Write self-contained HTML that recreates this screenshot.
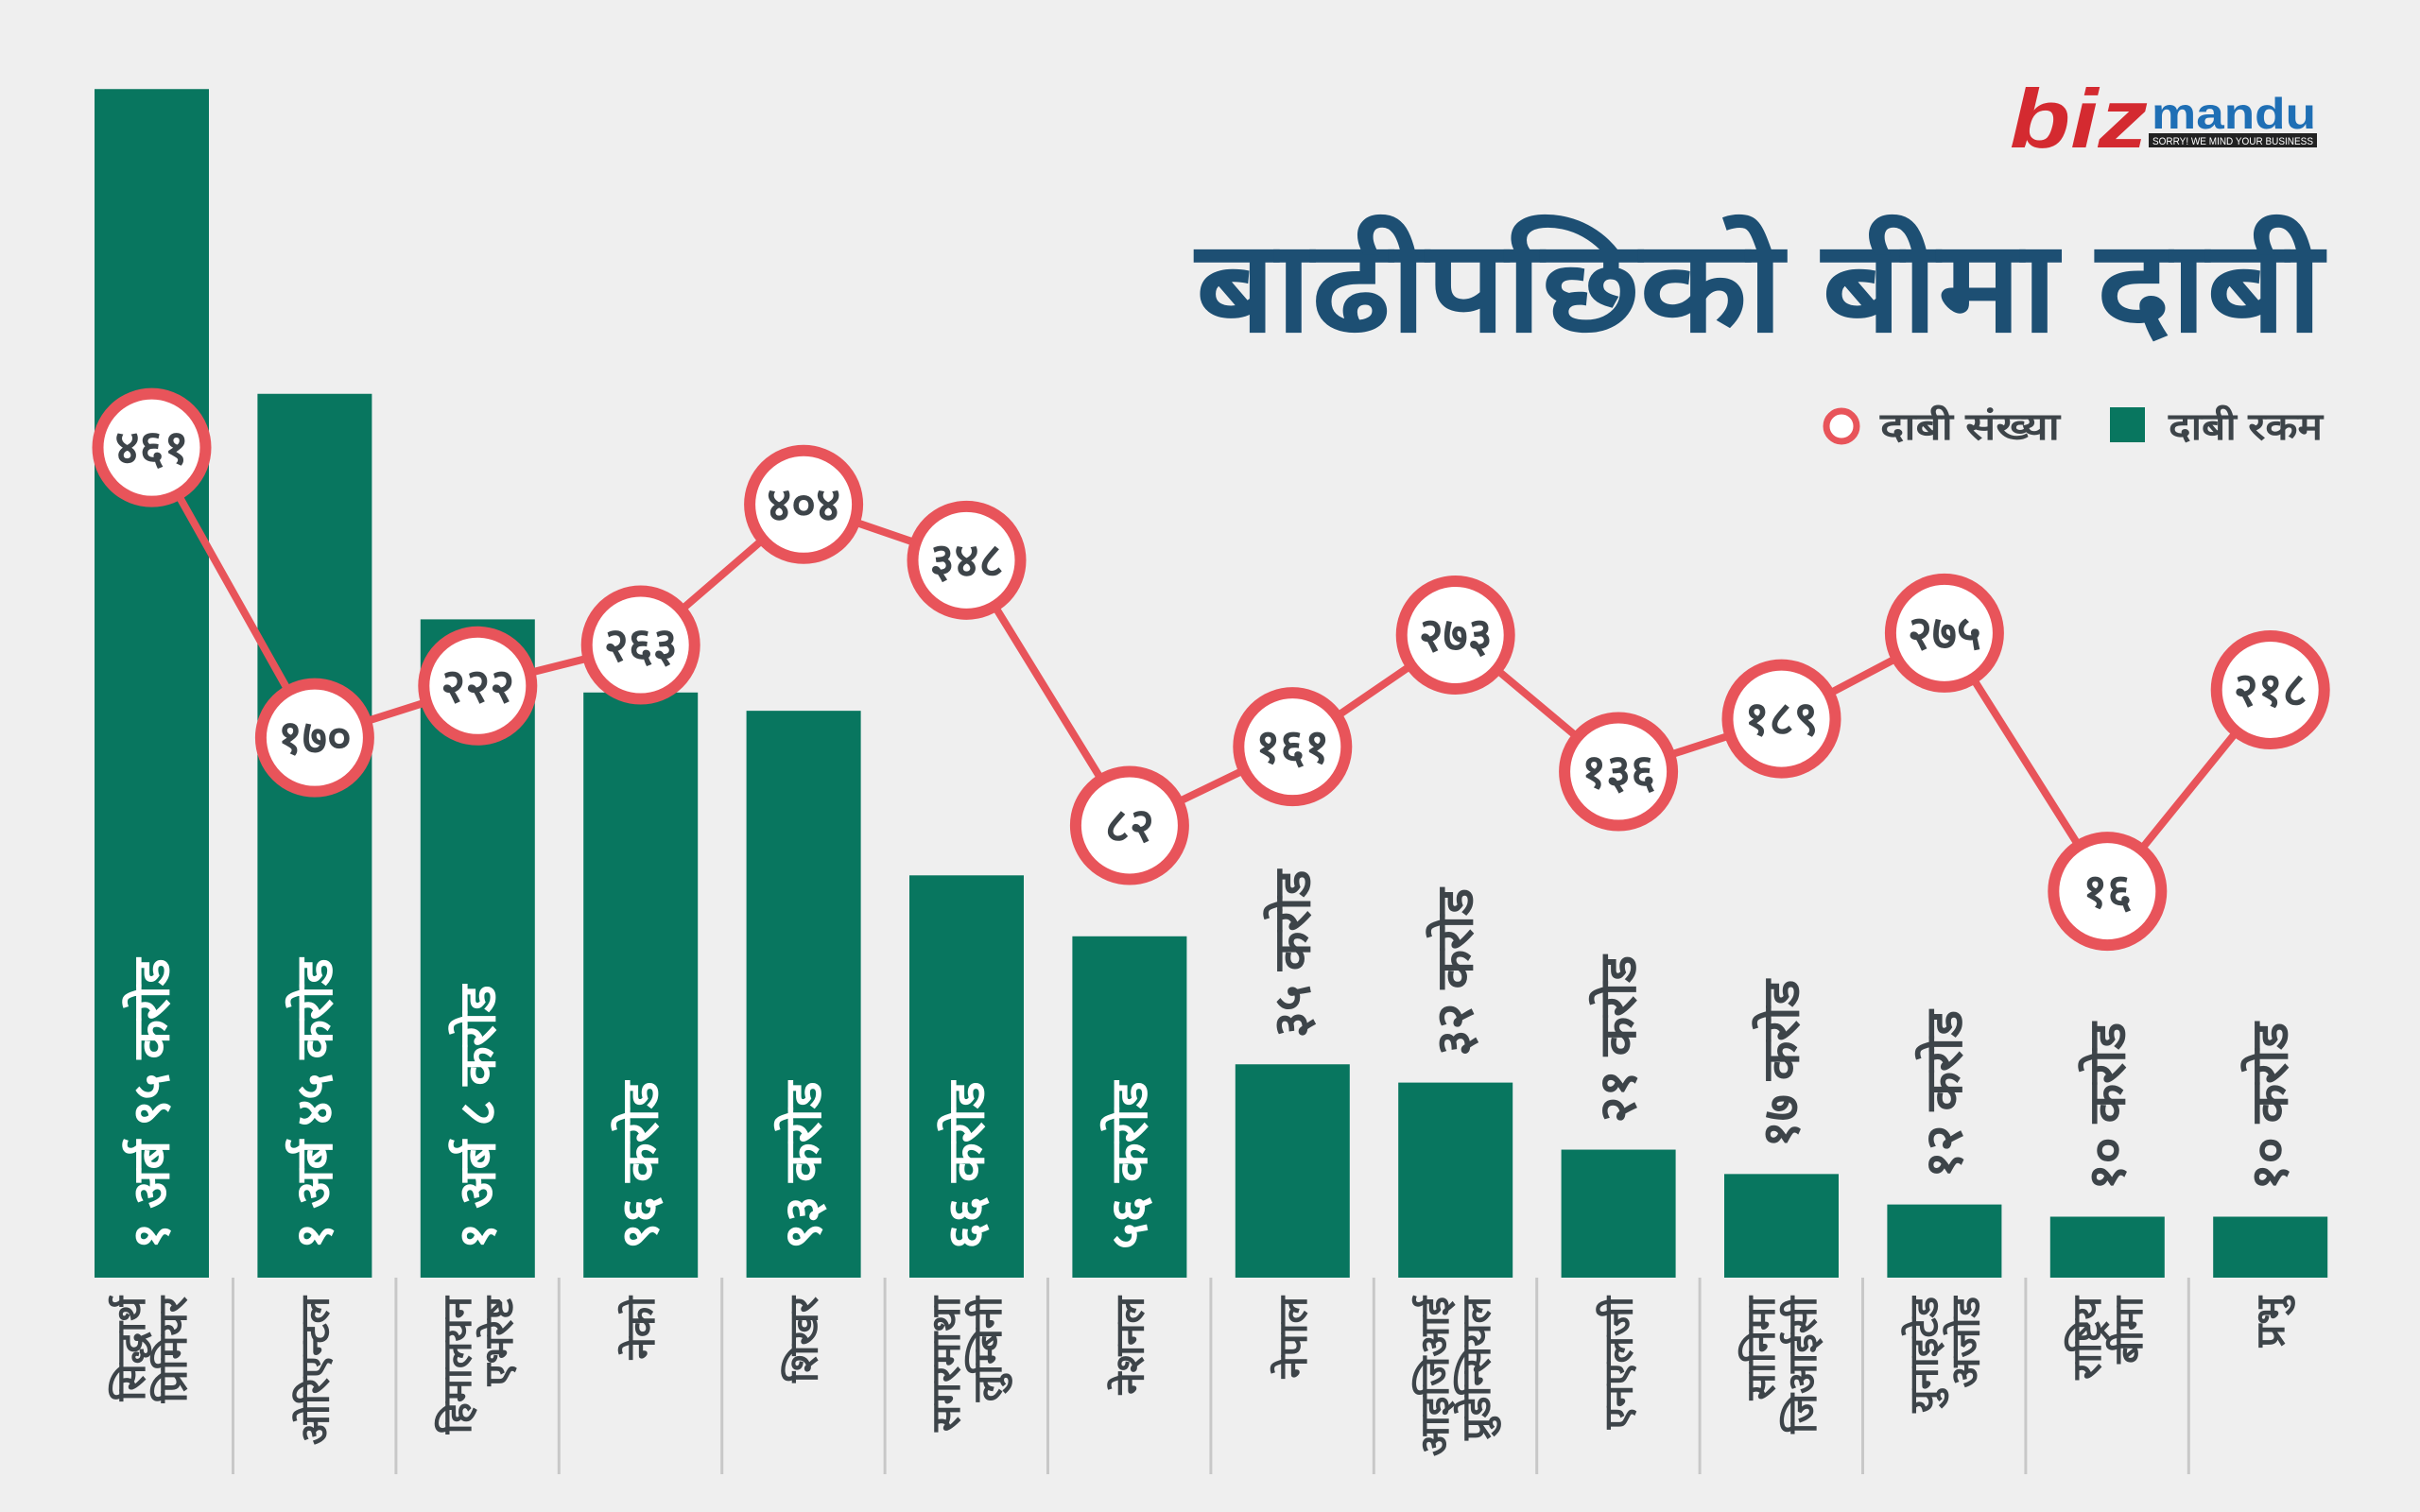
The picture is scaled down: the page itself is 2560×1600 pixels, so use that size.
<!DOCTYPE html>
<html><head><meta charset="utf-8"><style>
html,body{margin:0;padding:0;background:#efefef;}
svg{display:block;}
text{font-family:"Liberation Sans","DejaVu Sans",sans-serif;}
</style></head><body>
<svg id="chart" width="2560" height="1600" viewBox="0 0 2560 1600" xmlns="http://www.w3.org/2000/svg">
<rect x="0" y="0" width="2560" height="1600" fill="#efefef"/>
<g>
<text x="2126" y="156" font-size="88" font-weight="bold" font-style="italic" fill="#d42a30" textLength="146" lengthAdjust="spacingAndGlyphs">biz</text>
<text x="2276" y="136" font-size="46" font-weight="bold" fill="#1f6fb5" textLength="174" lengthAdjust="spacingAndGlyphs">mandu</text>
<rect x="2273" y="141" width="178" height="15" fill="#222"/>
<text x="2277" y="153" font-size="11" fill="#fff" textLength="170" lengthAdjust="spacingAndGlyphs">SORRY! WE MIND YOUR BUSINESS</text>
</g>
<text x="1265" y="350" font-size="135" font-weight="bold" fill="#1d4f73" textLength="1192" lengthAdjust="spacingAndGlyphs">बाढीपछिको बीमा दाबी</text>
<g>
<circle cx="1948" cy="451" r="16" fill="#fff" stroke="#e8545a" stroke-width="7"/>
<text x="1989" y="465" font-size="40" font-weight="bold" fill="#3d4449" textLength="190" lengthAdjust="spacingAndGlyphs">दाबी संख्या</text>
<rect x="2232" y="431" width="37" height="37" fill="#08765f"/>
<text x="2294" y="465" font-size="40" font-weight="bold" fill="#3d4449" textLength="163" lengthAdjust="spacingAndGlyphs">दाबी रकम</text>
</g>
<g id="bars"></g><g id="seps"></g><g id="cats"></g><g id="line"></g><g id="dots"></g>
</svg>
<script>
const categories=[["सिद्धार्थ","प्रिमियर"],["ओरिएन्टल"],["हिमालयन","एभरेष्ट"],["नेको"],["शिखर"],["सगरमाथा","लुम्बिनी"],["नेशनल"],["नेपाल"],["आइजिआई","प्रुडेन्सियल"],["एनएलजी"],["सानिमा","जिआईसी"],["युनाइटेड","अजोड"],["राष्ट्रिय","बीमा"],["प्रभु"]];
const amounts=[195,145,108,96,93,66,56,35,32,21,17,12,10,10];
const amountLabels=["१ अर्ब ९५ करोड","१ अर्ब ४५ करोड","१ अर्ब ८ करोड","९६ करोड","९३ करोड","६६ करोड","५६ करोड","३५ करोड","३२ करोड","२१ करोड","१७ करोड","१२ करोड","१० करोड","१० करोड"];
const counts=[461,170,222,263,404,348,82,161,273,136,189,275,16,218];
const countLabels=["४६१","१७०","२२२","२६३","४०४","३४८","८२","१६१","२७३","१३६","१८९","२७५","१६","२१८"];

const NS="http://www.w3.org/2000/svg";
const base=1352, pitch=172.4, x0=100, bw=121;
const xc=i=>x0+bw/2+i*pitch;
const yAmt=v=>base-v*6.45;
const yCnt=v=>960-v*1.055;
function mk(tag,attrs,parent){const e=document.createElementNS(NS,tag);for(const k in attrs)e.setAttribute(k,attrs[k]);parent.appendChild(e);return e;}
const gB=document.getElementById('bars'),gS=document.getElementById('seps'),gC=document.getElementById('cats'),gL=document.getElementById('line'),gD=document.getElementById('dots');
amounts.forEach((v,i)=>{
  const top=yAmt(v);
  const r=mk('rect',{x:xc(i)-bw/2,y:top,width:bw,height:base-top,fill:'#08765f'},gB);
  
  
  const inside=(base-top)>300;
  const ly=inside?1322:top-28;
  const t=mk('text',{x:xc(i),y:ly,transform:`rotate(-90 ${xc(i)} ${ly})`,'font-size':54,'font-weight':'bold',fill:inside?'#ffffff':'#3d4449','dominant-baseline':'central'},gB);
  t.textContent=amountLabels[i];
  
  
  if(i<amounts.length-1){
    const s=mk('line',{x1:xc(i)+86,y1:base,x2:xc(i)+86,y2:1560,stroke:'#c8c8c8','stroke-width':3},gS);
    
    
  }
  const lines=categories[i];
  lines.forEach((ln,j)=>{
    const cx=xc(i)+(lines.length===2?(j===0?-22:22):0);
    const c=mk('text',{x:cx,y:1372,transform:`rotate(-90 ${cx} 1372)`,'font-size':42,'font-weight':'bold',fill:'#3d4449','text-anchor':'end','dominant-baseline':'central'},gC);
    c.textContent=ln;
    
    
  });
});
const pts=counts.map((v,i)=>xc(i)+','+yCnt(v)).join(' ');
const pl=mk('polyline',{points:pts,fill:'none',stroke:'#e8545a','stroke-width':8},gL);


counts.forEach((v,i)=>{
  const c=mk('circle',{cx:xc(i),cy:yCnt(v),r:57,fill:'#ffffff',stroke:'#e8545a','stroke-width':12},gD);
  
  
  const t=mk('text',{x:xc(i),y:yCnt(v),'font-size':50,'font-weight':'bold',fill:'#3d4449','text-anchor':'middle','dominant-baseline':'central'},gD);
  t.textContent=countLabels[i];
  
  
});
</script>
</body></html>
